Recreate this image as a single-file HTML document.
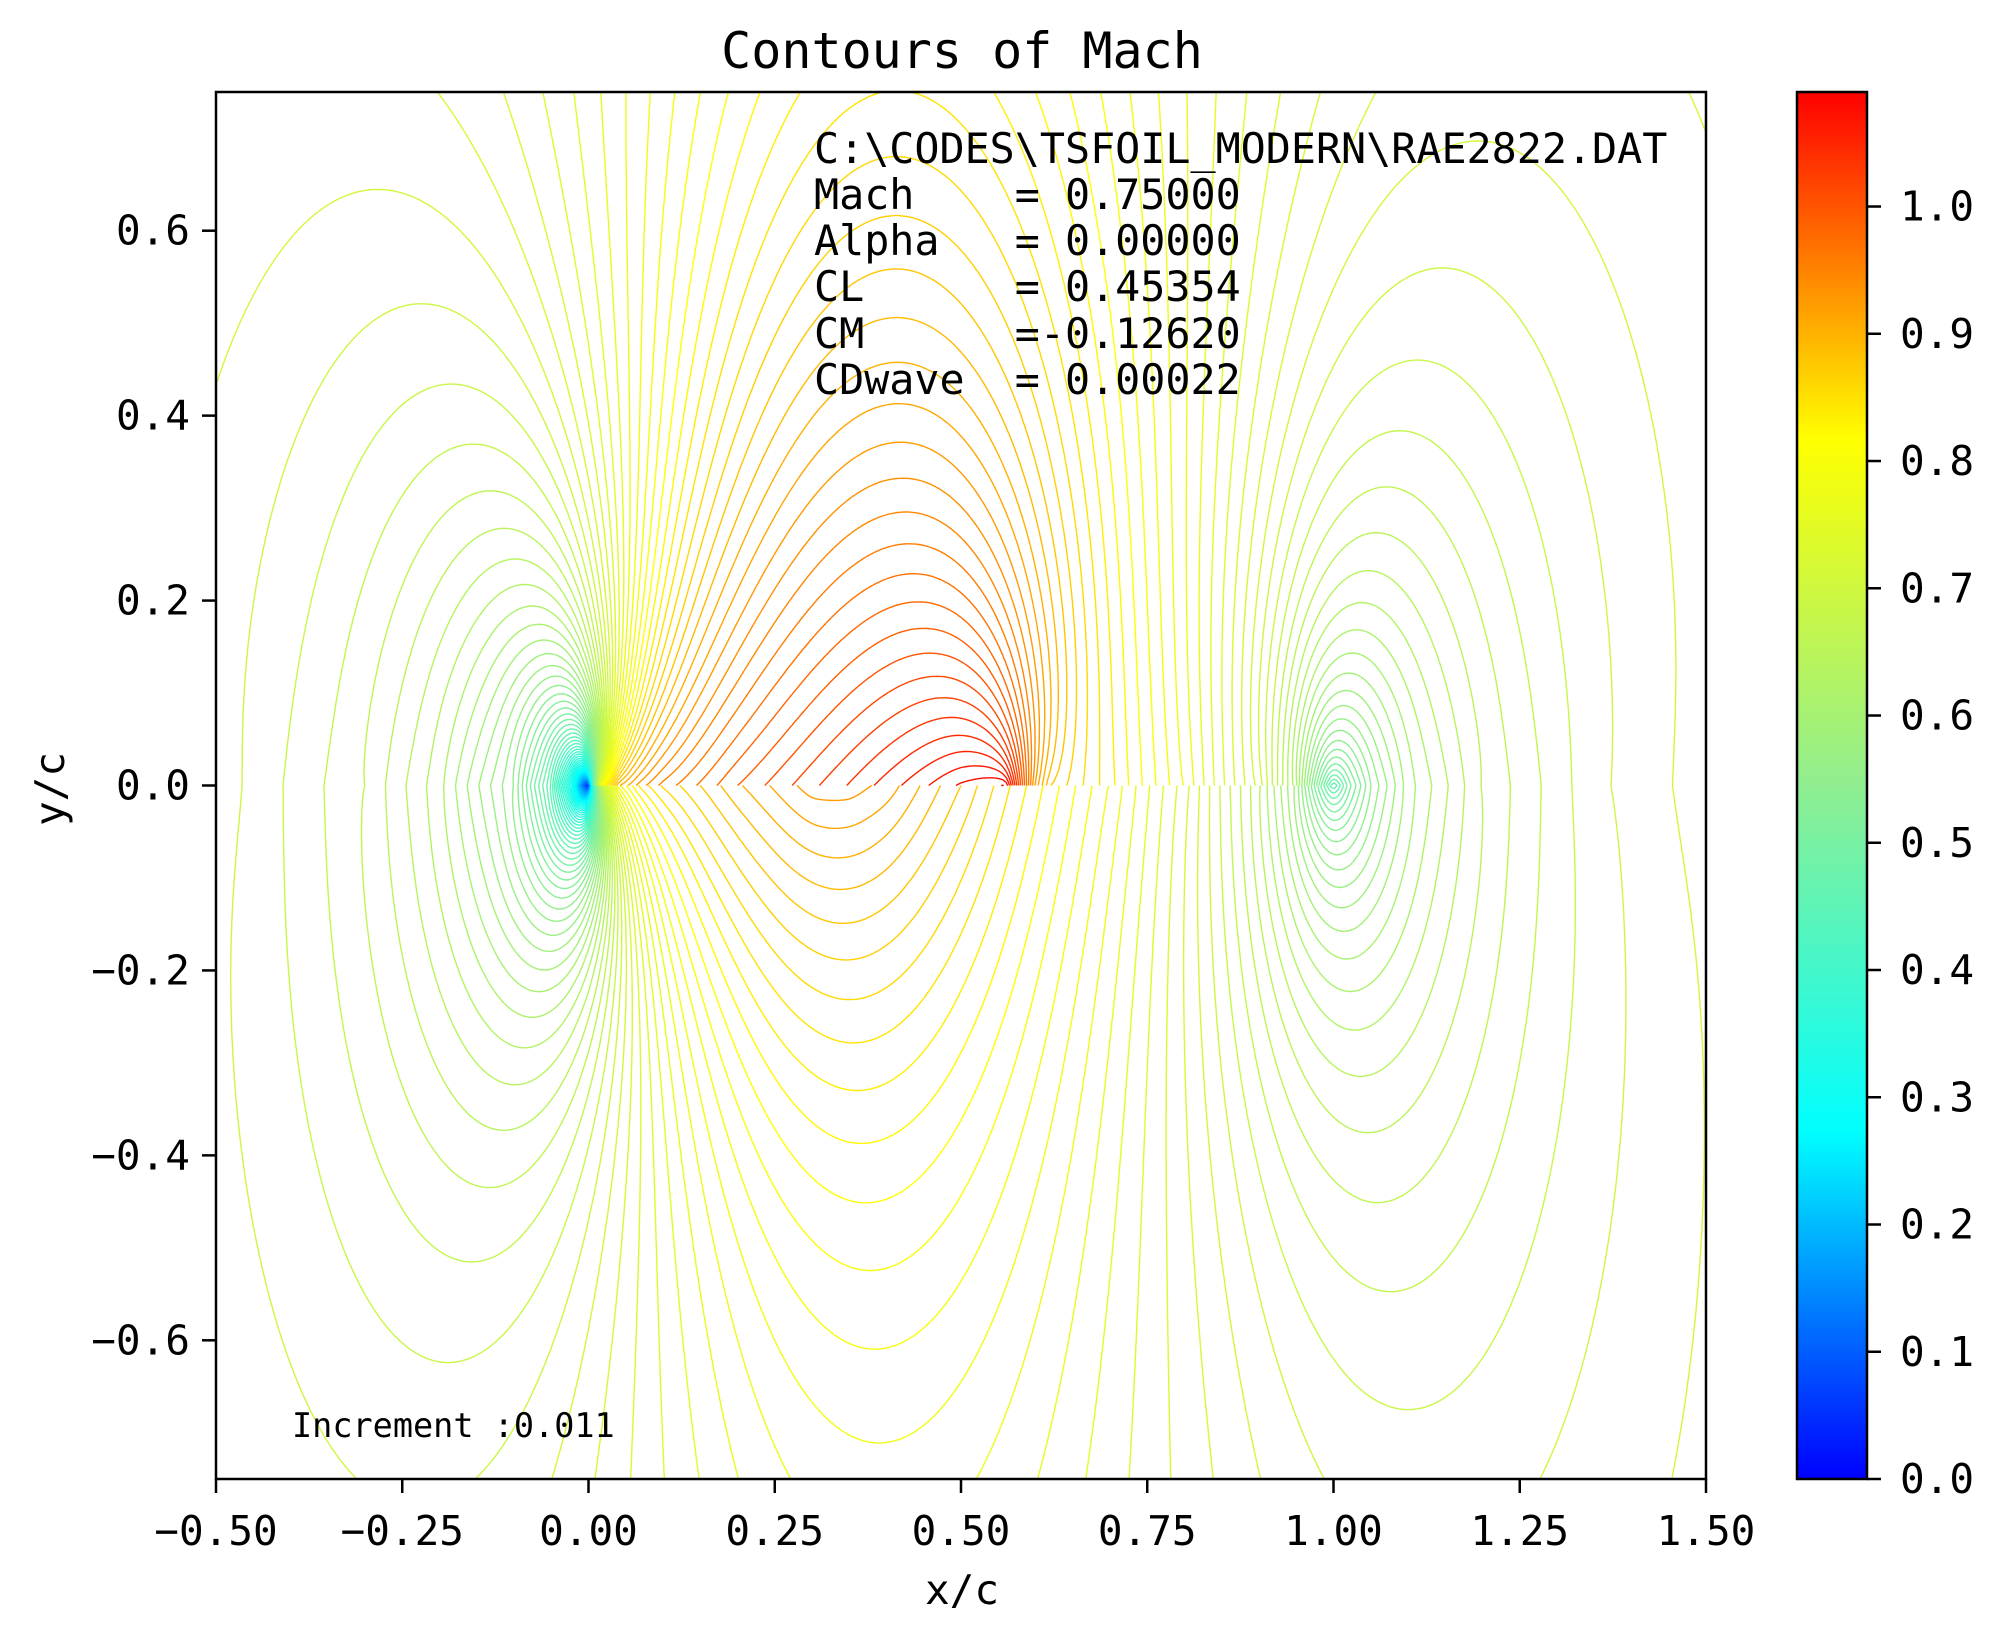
<!DOCTYPE html>
<html><head><meta charset="utf-8"><title>Contours of Mach</title>
<style>
html,body{margin:0;padding:0;background:#fff;}
svg{display:block;}
text{font-family:"DejaVu Sans Mono","Liberation Mono",monospace;fill:#000;}
</style></head>
<body>
<svg id="chart" width="2001" height="1634" viewBox="0 0 2001 1634" xmlns="http://www.w3.org/2000/svg">
<defs>
<clipPath id="plotClip"><rect x="216" y="92" width="1490" height="1387"/></clipPath>
<linearGradient id="cbGrad" x1="0" y1="1" x2="0" y2="0">
<stop offset="0" stop-color="#0000ff"/>
<stop offset="0.25" stop-color="#00ffff"/>
<stop offset="0.5" stop-color="#90ee90"/>
<stop offset="0.75" stop-color="#ffff00"/>
<stop offset="1" stop-color="#ff0000"/>
</linearGradient>
</defs>
<rect x="0" y="0" width="2001" height="1634" fill="#fff"/>
<text x="962" y="68" font-size="50" text-anchor="middle">Contours of Mach</text>
<g id="contours" clip-path="url(#plotClip)"></g>
<rect x="216" y="92" width="1490" height="1387" fill="none" stroke="#000" stroke-width="2.5"/>
<g id="xticks"></g>
<g id="yticks"></g>
<text x="962" y="1604" font-size="41" text-anchor="middle">x/c</text>
<text x="64" y="789" font-size="41" text-anchor="middle" transform="rotate(-90 64 789)">y/c</text>
<g font-size="41.7" style="white-space:pre">
<text x="814" y="163" xml:space="preserve">C:\CODES\TSFOIL_MODERN\RAE2822.DAT</text>
<text x="814" y="209" xml:space="preserve">Mach    = 0.75000</text>
<text x="814" y="255" xml:space="preserve">Alpha   = 0.00000</text>
<text x="814" y="301" xml:space="preserve">CL      = 0.45354</text>
<text x="814" y="348" xml:space="preserve">CM      =-0.12620</text>
<text x="814" y="394" xml:space="preserve">CDwave  = 0.00022</text>
</g>
<text x="292" y="1437" font-size="33.5" xml:space="preserve">Increment :0.011</text>
<rect x="1797" y="92" width="70" height="1387" fill="url(#cbGrad)" stroke="#000" stroke-width="2.5"/>
<g id="cbticks"></g>
</svg>
<script>
// ---- data ----
const machInf = 0.75;
const increment = 0.011;
const levelCount = 100;
const colorMax = 1.09;
const upstreamX = [-4, -2, -1, -0.5, -0.3, -0.2, -0.1, -0.05, -0.02];
const upstreamM = [0.748, 0.74, 0.725, 0.70, 0.66, 0.62, 0.55, 0.45, 0.30];
const upperX = [0, 0.005, 0.01, 0.02, 0.04, 0.07, 0.1, 0.2, 0.3, 0.4, 0.5, 0.56, 0.58, 0.6, 0.62, 0.7, 0.8, 0.9, 0.95, 1.0];
const upperM = [0.0, 0.35, 0.6, 0.82, 0.9, 0.93, 0.95, 0.99, 1.02, 1.05, 1.08, 1.09, 1.0, 0.92, 0.88, 0.84, 0.78, 0.70, 0.62, 0.45];
const lowerX = [0, 0.005, 0.01, 0.02, 0.04, 0.07, 0.1, 0.2, 0.3, 0.35, 0.4, 0.5, 0.6, 0.7, 0.8, 0.9, 0.95, 1.0];
const lowerM = [0.0, 0.3, 0.5, 0.7, 0.8, 0.84, 0.86, 0.9, 0.93, 0.93, 0.92, 0.88, 0.83, 0.78, 0.72, 0.64, 0.58, 0.45];
const wakeX = [1.02, 1.05, 1.1, 1.2, 1.35, 1.5, 2, 3, 5];
const wakeM = [0.5, 0.55, 0.6, 0.65, 0.69, 0.71, 0.73, 0.745, 0.75];
const xTicks = [-0.5, -0.25, 0, 0.25, 0.5, 0.75, 1.0, 1.25, 1.5];
const xTickLabels = ["−0.50","−0.25","0.00","0.25","0.50","0.75","1.00","1.25","1.50"];
const yTicks = [-0.6, -0.4, -0.2, 0, 0.2, 0.4, 0.6];
const yTickLabels = ["−0.6","−0.4","−0.2","0.0","0.2","0.4","0.6"];
const cbTicks = [0,0.1,0.2,0.3,0.4,0.5,0.6,0.7,0.8,0.9,1.0];
const cbTickLabels = ["0.0","0.1","0.2","0.3","0.4","0.5","0.6","0.7","0.8","0.9","1.0"];
const cmapPos = [0, 0.25, 0.5, 0.75, 1];
const cmapRGB = [[0,0,255],[0,255,255],[144,238,144],[255,255,0],[255,0,0]];

// ---- axes ----
const NS = "http://www.w3.org/2000/svg";
const X0 = 216, X1 = 1706, Y0 = 92, Y1 = 1479;
const xMin = -0.5, xMax = 1.5, yMin = -0.75, yMax = 0.75;
function sx(x){ return X0 + (x - xMin) / (xMax - xMin) * (X1 - X0); }
function sy(y){ return Y1 - (y - yMin) / (yMax - yMin) * (Y1 - Y0); }
function sc(v){ return Y1 - v / colorMax * (Y1 - Y0); }
function mk(tag, attrs, parent){
  const e = document.createElementNS(NS, tag);
  for (const k in attrs) e.setAttribute(k, attrs[k]);
  parent.appendChild(e); return e;
}
const gx = document.getElementById('xticks');
xTicks.forEach((v,i)=>{
  const l = mk('line',{x1:sx(v),x2:sx(v),y1:Y1,y2:Y1+14,stroke:'#000','stroke-width':2.5},gx);
  
  
  const t = mk('text',{x:sx(v),y:1545,'font-size':41,'text-anchor':'middle'},gx);
  
  
  t.textContent = xTickLabels[i];
});
const gy = document.getElementById('yticks');
yTicks.forEach((v,i)=>{
  const l = mk('line',{x1:X0-14,x2:X0,y1:sy(v),y2:sy(v),stroke:'#000','stroke-width':2.5},gy);
  
  
  const t = mk('text',{x:190,y:sy(v)+14,'font-size':41,'text-anchor':'end'},gy);
  
  
  t.textContent = yTickLabels[i];
});
const gc = document.getElementById('cbticks');
cbTicks.forEach((v,i)=>{
  const l = mk('line',{x1:1867,x2:1881,y1:sc(v),y2:sc(v),stroke:'#000','stroke-width':2.5},gc);
  
  
  const t = mk('text',{x:1900,y:sc(v)+14,'font-size':41},gc);
  
  
  t.textContent = cbTickLabels[i];
});

// ---- colormap ----
function cmap(v){
  let t = Math.max(0, Math.min(1, v / colorMax));
  let k = 0; while (k < cmapPos.length - 2 && t > cmapPos[k+1]) k++;
  const f = (t - cmapPos[k]) / (cmapPos[k+1] - cmapPos[k]);
  const a = cmapRGB[k], b = cmapRGB[k+1];
  return 'rgb(' + a.map((c,j)=>Math.round(c + (b[j]-c)*f)).join(',') + ')';
}

// ---- field from surface / stagnation-line Mach distributions ----
const stretch = 0.42;
function boundary(sx_, sm_){
  const X = upstreamX.concat(sx_, wakeX);
  const F = upstreamM.concat(sm_, wakeM).map(m => m - machInf);
  return {X, F};
}
const bU = boundary(upperX, upperM), bL = boundary(lowerX, lowerM);
function fieldAt(b, x, y){
  const Y = stretch * Math.abs(y);
  const X = b.X, F = b.F;
  if (Y < 1e-9){
    for (let i = 0; i < X.length-1; i++){
      if (x >= X[i] && x <= X[i+1]) return machInf + F[i] + (F[i+1]-F[i])*(x-X[i])/(X[i+1]-X[i]);
    }
    return machInf;
  }
  let s = 0;
  for (let i = 0; i < X.length-1; i++){
    const s0 = X[i], s1 = X[i+1], f0 = F[i], f1 = F[i+1];
    const k = (f1 - f0) / (s1 - s0);
    const A = Math.atan((s1 - x)/Y) - Math.atan((s0 - x)/Y);
    const B = 0.5 * Y * Math.log(((s1-x)*(s1-x)+Y*Y)/((s0-x)*(s0-x)+Y*Y));
    s += (f0 + k*(x - s0))*A + k*B;
  }
  return machInf + s / Math.PI;
}

const NX = 500, NY = 190;
function buildGrid(b, sign){
  const g = [];
  for (let j = 0; j <= NY; j++){
    const y = sign * 0.76 * j / NY;
    const row = new Float64Array(NX+1);
    for (let i = 0; i <= NX; i++){
      const x = -0.51 + 2.02 * i / NX;
      row[i] = fieldAt(b, x, y);
    }
    g.push(row);
  }
  return g;
}
function px(i){ return sx(-0.51 + 2.02 * i / NX); }
function py(j, sign){ return sy(sign * 0.76 * j / NY); }

const grids = [[buildGrid(bU, 1), 1], [buildGrid(bL, -1), -1]];
const paths = [];
for (let n = 0; n < levelCount; n++) paths.push([]);
for (const [g, sign] of grids){
  for (let j = 0; j < NY; j++){
    const r0 = g[j], r1 = g[j+1];
    for (let i = 0; i < NX; i++){
      const v0 = r0[i], v1 = r0[i+1], v2 = r1[i+1], v3 = r1[i];
      const lo = Math.min(v0,v1,v2,v3), hi = Math.max(v0,v1,v2,v3);
      let n0 = Math.max(0, Math.ceil(lo / increment - 1e-9));
      let n1 = Math.min(levelCount-1, Math.floor(hi / increment));
      for (let n = n0; n <= n1; n++){
        const L = n * increment;
        const pts = [];
        const xa = px(i), xb = px(i+1), ya = py(j, sign), yb = py(j+1, sign);
        if ((v0 > L) !== (v1 > L)){ const t=(L-v0)/(v1-v0); pts.push([xa+(xb-xa)*t, ya]); }
        if ((v1 > L) !== (v2 > L)){ const t=(L-v1)/(v2-v1); pts.push([xb, ya+(yb-ya)*t]); }
        if ((v3 > L) !== (v2 > L)){ const t=(L-v3)/(v2-v3); pts.push([xa+(xb-xa)*t, yb]); }
        if ((v0 > L) !== (v3 > L)){ const t=(L-v0)/(v3-v0); pts.push([xa, ya+(yb-ya)*t]); }
        const arr = paths[n];
        if (pts.length === 2){
          arr.push('M'+pts[0][0].toFixed(1)+' '+pts[0][1].toFixed(1)+'L'+pts[1][0].toFixed(1)+' '+pts[1][1].toFixed(1));
        } else if (pts.length === 4){
          arr.push('M'+pts[0][0].toFixed(1)+' '+pts[0][1].toFixed(1)+'L'+pts[1][0].toFixed(1)+' '+pts[1][1].toFixed(1));
          arr.push('M'+pts[2][0].toFixed(1)+' '+pts[2][1].toFixed(1)+'L'+pts[3][0].toFixed(1)+' '+pts[3][1].toFixed(1));
        }
      }
    }
  }
}
const gC = document.getElementById('contours');
for (let n = 0; n < levelCount; n++){
  if (!paths[n].length) continue;
  const p = mk('path',{d:paths[n].join(''),fill:'none',stroke:cmap(n*increment),'stroke-width':1.4,'stroke-linejoin':'round'},gC);
  
  
}
</script>
</body></html>
